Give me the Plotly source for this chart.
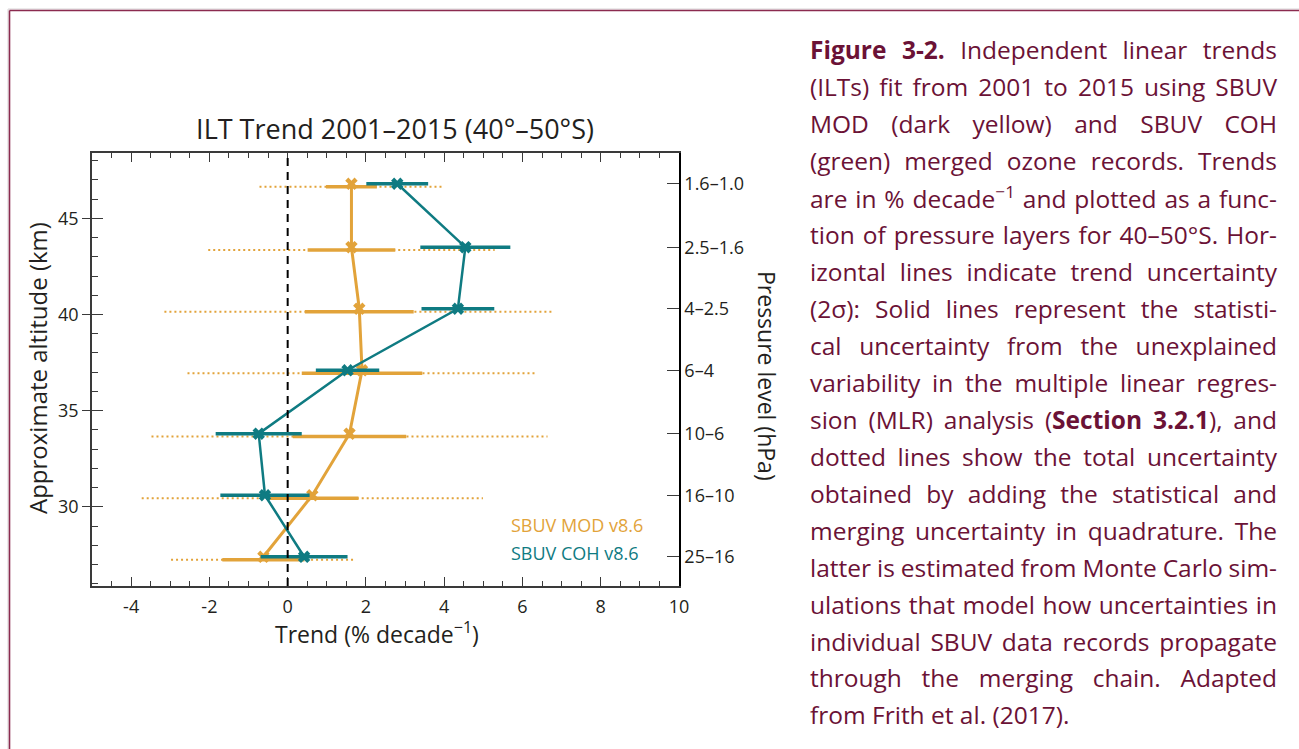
import plotly.graph_objects as go

# ---------------- data ----------------
ALTITUDE_KM = [46.8, 43.5, 40.3, 37.1, 33.8, 30.6, 27.4]
PRESSURE_LABELS = ["1.6–1.0", "2.5–1.6", "4–2.5", "6–4", "10–6", "16–10", "25–16"]

MOD_TREND = [1.63, 1.63, 1.83, 1.90, 1.58, 0.63, -0.62]
MOD_STAT_2SIGMA = [0.65, 1.12, 1.39, 1.54, 1.45, 1.18, 1.05]
MOD_TOTAL_2SIGMA = [2.35, 3.66, 4.98, 4.46, 5.06, 4.36, 2.36]

COH_TREND = [2.80, 4.54, 4.35, 1.53, -0.74, -0.58, 0.42]
COH_STAT_2SIGMA = [0.79, 1.15, 0.93, 0.81, 1.10, 1.14, 1.11]

X_TICKS = [-4, -2, 0, 2, 4, 6, 8, 10]
X_TICK_LABELS = ["-4", "-2", "0", "2", "4", "6", "8", "10"]
Y_TICKS = [30, 35, 40, 45]

CAPTION_LINES = [
    "<b>Figure 3-2.</b> Independent linear trends",
    "(ILTs) fit from 2001 to 2015 using SBUV",
    "MOD (dark yellow) and SBUV COH",
    "(green) merged ozone records. Trends",
    "are in % decade<sup>−1</sup> and plotted as a func-",
    "tion of pressure layers for 40–50°S. Hor-",
    "izontal lines indicate trend uncertainty",
    "(2σ): Solid lines represent the statisti-",
    "cal uncertainty from the unexplained",
    "variability in the multiple linear regres-",
    "sion (MLR) analysis (<b>Section 3.2.1</b>), and",
    "dotted lines show the total uncertainty",
    "obtained by adding the statistical and",
    "merging uncertainty in quadrature. The",
    "latter is estimated from Monte Carlo sim-",
    "ulations that model how uncertainties in",
    "individual SBUV data records propagate",
    "through the merging chain. Adapted",
    "from Frith et al. (2017).",
]

# ---------------- style ----------------
MOD_COLOR = "#E2A33A"
COH_COLOR = "#0F7B82"
CAPTION_COLOR = "#6B1236"
BORDER_COLOR = "#8B2B4F"
TEXT_COLOR = "#231F20"
FONT = "Open Sans"
BAR_OFFSET = 0.15  # yellow uncertainty bars drawn slightly below markers

W, H = 1299, 749
L, R, T, B = 92, 679, 153, 586  # plot area in pixels


def px_x(p):
    return (p - L) / (R - L)


def px_y(p):
    return (B - p) / (B - T)


def segments(center, half, alt, off=0.0):
    xs, ys = [], []
    for c, h, a in zip(center, half, alt):
        xs += [c - h, c + h, None]
        ys += [a - off, a - off, None]
    return xs, ys


fig = go.Figure()

# MOD total uncertainty (dotted)
xs, ys = segments(MOD_TREND, MOD_TOTAL_2SIGMA, ALTITUDE_KM, BAR_OFFSET)
fig.add_trace(go.Scatter(x=xs, y=ys, mode="lines",
                         line=dict(color=MOD_COLOR, width=2, dash="2px,3px"),
                         hoverinfo="skip", showlegend=False))
# MOD statistical uncertainty (solid)
xs, ys = segments(MOD_TREND, MOD_STAT_2SIGMA, ALTITUDE_KM, BAR_OFFSET)
fig.add_trace(go.Scatter(x=xs, y=ys, mode="lines",
                         line=dict(color=MOD_COLOR, width=3.5),
                         hoverinfo="skip", showlegend=False))
# MOD profile
fig.add_trace(go.Scatter(x=MOD_TREND, y=ALTITUDE_KM, mode="lines+markers",
                         line=dict(color=MOD_COLOR, width=3),
                         marker=dict(symbol="x", size=11, color=MOD_COLOR),
                         name="SBUV MOD v8.6", showlegend=False))
# COH statistical uncertainty (solid)
xs, ys = segments(COH_TREND, COH_STAT_2SIGMA, ALTITUDE_KM)
fig.add_trace(go.Scatter(x=xs, y=ys, mode="lines",
                         line=dict(color=COH_COLOR, width=3.5),
                         hoverinfo="skip", showlegend=False))
# COH profile
fig.add_trace(go.Scatter(x=COH_TREND, y=ALTITUDE_KM, mode="lines+markers",
                         line=dict(color=COH_COLOR, width=2.5),
                         marker=dict(symbol="x", size=11, color=COH_COLOR),
                         name="SBUV COH v8.6", showlegend=False))

# zero line
fig.add_vline(x=0, line=dict(color="black", width=2, dash="8px,6px"))

YR = [25.88, 48.4]
axis_line = "#3a3a3a"

fig.update_layout(
    width=W, height=H,
    margin=dict(l=L, r=W - R, t=T, b=H - B),
    paper_bgcolor="white", plot_bgcolor="white",
    font=dict(family=FONT, color=TEXT_COLOR, size=18),
    showlegend=False,
    xaxis=dict(range=[-5, 10], tickvals=X_TICKS, ticktext=X_TICK_LABELS,
               ticks="inside", ticklen=9, tickwidth=1.3, tickcolor=axis_line,
               minor=dict(dtick=0.5, tick0=0, ticks="inside", ticklen=5,
                          tickwidth=1.2, tickcolor=axis_line),
               showline=True, linecolor=axis_line, linewidth=1.5, mirror="ticks",
               showgrid=False, zeroline=False, ticklabelstandoff=4,
               tickfont=dict(size=18)),
    yaxis=dict(range=YR, tickvals=Y_TICKS, ticks="outside", ticklen=8,
               tickwidth=1.3, tickcolor=axis_line,
               minor=dict(dtick=1, tick0=0, ticks="inside", ticklen=6,
                          tickwidth=1.2, tickcolor=axis_line),
               showline=True, linecolor=axis_line, linewidth=1.5,
               showgrid=False, zeroline=False, tickfont=dict(size=18)),
    yaxis3=dict(range=YR, overlaying="y", side="left", tickvals=Y_TICKS,
                ticks="inside", ticklen=11, tickwidth=1.3, tickcolor=axis_line,
                showticklabels=False, showline=False, showgrid=False,
                zeroline=False),
    yaxis2=dict(range=YR, overlaying="y", side="right", tickvals=ALTITUDE_KM,
                ticktext=PRESSURE_LABELS, ticks="inside", ticklen=12,
                tickwidth=1.3, tickcolor=axis_line, showline=True,
                linecolor="black", linewidth=1.5, showgrid=False, zeroline=False,
                tickfont=dict(size=18)),
    title=dict(text="ILT Trend 2001–2015 (40°–50°S)", x=px_x(395), xref="paper",
               xanchor="center", y=1 - 130 / H, yanchor="middle",
               font=dict(size=27, color=TEXT_COLOR, family=FONT)),
)

# invisible traces to activate yaxis2/yaxis3
fig.add_trace(go.Scatter(x=[None], y=[None], yaxis="y2", showlegend=False,
                         hoverinfo="skip"))
fig.add_trace(go.Scatter(x=[None], y=[None], yaxis="y3", showlegend=False,
                         hoverinfo="skip"))

ann = []
# axis titles
ann.append(dict(text="Approximate altitude (km)", x=px_x(37), y=px_y(368),
                xref="paper", yref="paper", xanchor="center", yanchor="middle",
                textangle=-90, showarrow=False,
                font=dict(size=24, color=TEXT_COLOR)))
ann.append(dict(text="Pressure level (hPa)", x=px_x(767), y=px_y(376),
                xref="paper", yref="paper", xanchor="center", yanchor="middle",
                textangle=90, showarrow=False,
                font=dict(size=23, color=TEXT_COLOR)))
ann.append(dict(text="Trend (% decade<sup>−1</sup>)", x=px_x(377), y=px_y(633),
                xref="paper", yref="paper", xanchor="center", yanchor="middle",
                showarrow=False, font=dict(size=23, color=TEXT_COLOR)))
# legend
ann.append(dict(text="SBUV MOD v8.6", x=px_x(509), y=px_y(525), xref="paper",
                yref="paper", xanchor="left", yanchor="middle", showarrow=False,
                font=dict(size=18, color=MOD_COLOR)))
ann.append(dict(text="SBUV COH v8.6", x=px_x(509), y=px_y(553), xref="paper",
                yref="paper", xanchor="left", yanchor="middle", showarrow=False,
                font=dict(size=18, color=COH_COLOR)))

# caption
first_caption = len(ann)
CAP_X0, CAP_X1 = 808, 1277
CAP_Y0, CAP_DY = 50, 36.94
for i, line in enumerate(CAPTION_LINES):
    ann.append(dict(text=line, x=px_x(CAP_X0), y=px_y(CAP_Y0 + i * CAP_DY),
                    xref="paper", yref="paper", xanchor="left", yanchor="middle",
                    align="left", showarrow=False,
                    font=dict(size=24.5, color=CAPTION_COLOR, family=FONT)))
fig.update_layout(annotations=ann)

# frame
shapes = [
    dict(type="line", xref="paper", yref="paper", x0=px_x(8), x1=px_x(W),
         y0=px_y(9), y1=px_y(9), line=dict(color="#d8d4d6", width=1)),
    dict(type="line", xref="paper", yref="paper", x0=px_x(8), x1=px_x(8),
         y0=px_y(9), y1=px_y(H), line=dict(color="#d8d4d6", width=1)),
    dict(type="line", xref="paper", yref="paper", x0=px_x(9.5), x1=px_x(W),
         y0=px_y(10.5), y1=px_y(10.5), line=dict(color=BORDER_COLOR, width=1.6)),
    dict(type="line", xref="paper", yref="paper", x0=px_x(9.5), x1=px_x(9.5),
         y0=px_y(10.5), y1=px_y(H), line=dict(color=BORDER_COLOR, width=1.6)),
]
for s in shapes:
    fig.add_shape(**s)

justify_idx = [first_caption + i for i in range(len(CAPTION_LINES) - 1)]
post = """
(function(){
  document.body.style.margin = '0';
  document.body.style.padding = '0';
  document.documentElement.style.overflow = 'hidden';
  var gd = document.getElementById('{plot_id}');
  var J = %s;
  var WID = %d;
  J.forEach(function(i){
    var t = gd.querySelector('.annotation[data-index="' + i + '"] text.annotation-text');
    if(!t) return;
    t.style.wordSpacing = '0px';
    var w = t.getComputedTextLength();
    var n = (t.textContent.match(/ /g) || []).length;
    if(n > 0){ t.style.wordSpacing = ((WID - w) / n) + 'px'; }
  });
})();
""" % (str(justify_idx), CAP_X1 - CAP_X0 - 2)

fig.write_html("out.html", post_script=post, config={"displayModeBar": False})
